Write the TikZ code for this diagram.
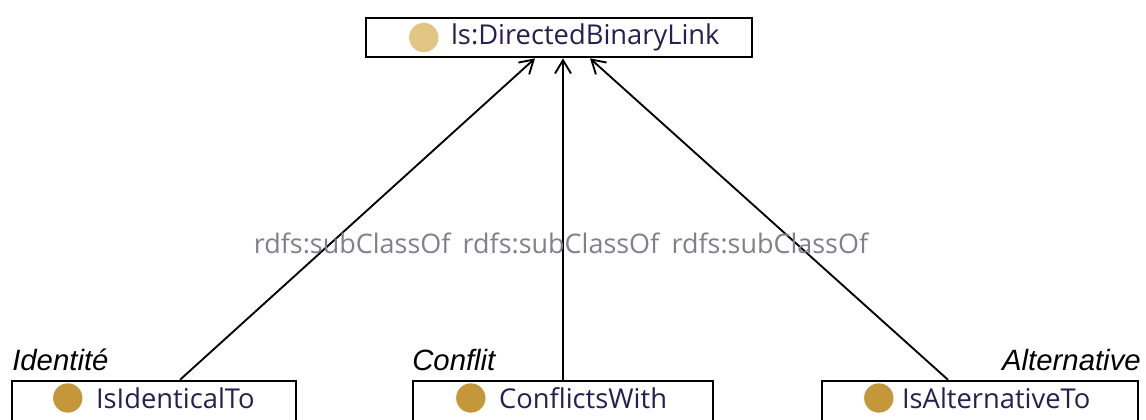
\documentclass[tikz,border=0pt]{standalone}
\usepackage{fontspec}
\setmainfont{Open Sans}
\newfontfamily\tagfont{Liberation Sans}
\usetikzlibrary{positioning,calc,arrows.meta}

\definecolor{classtext}{RGB}{40,30,80}
\definecolor{topdot}{RGB}{224,198,130}
\definecolor{subdot}{RGB}{196,152,58}
\definecolor{edgegray}{RGB}{128,128,140}

\tikzset{
  classbox/.style={draw,line width=1.8pt,minimum height=29.5pt,inner sep=0pt},
  classdot/.style={circle,inner sep=0pt,minimum size=22pt},
  classname/.style={anchor=west,inner sep=0pt,text=classtext,font=\fontsize{20.5}{24}\selectfont},
  subarrow/.style={line width=1.4pt,-{Straight Barb[length=10pt,width=12pt,line width=1.4pt]}},
  edgelabel/.style={text=edgegray,inner sep=0pt,font=\fontsize{20.2}{24}\selectfont},
  tag/.style={inner sep=0pt,font=\tagfont\itshape\fontsize{22}{26}\selectfont}
}

\begin{document}
\begin{tikzpicture}[x=0.75pt,y=-0.75pt]
\useasboundingbox (0,0) rectangle (1146,420);
\clip (0,0) rectangle (1146,420);

% Super class
\node[classbox,minimum width=289.5pt] (link) at (559,37.5) {};
\node[classdot,fill=topdot] (linkdot) at ($(link.west)+(59,0)$) {};
\node[classname] (linktext) at ($(link.west)+(86,0)$) {ls:DirectedBinaryLink};

% Sub classes
\node[classbox,minimum width=213pt,minimum height=30pt] (ident) at (154,401) {};
\node[classdot,fill=subdot] (identdot) at ($(ident.west)+(57,-3)$) {};
\node[classname] (identtext) at ($(ident.west)+(85,-3)$) {IsIdenticalTo};

\node[classbox,minimum width=225pt,minimum height=30pt] (confl) at (563,401) {};
\node[classdot,fill=subdot] (confldot) at ($(confl.west)+(59,-3)$) {};
\node[classname] (confltext) at ($(confl.west)+(87,-3)$) {ConflictsWith};

\node[classbox,minimum width=237pt,minimum height=30pt] (alter) at (980,401) {};
\node[classdot,fill=subdot] (alterdot) at ($(alter.west)+(58,-3)$) {};
\node[classname] (altertext) at ($(alter.west)+(81,-3)$) {IsAlternativeTo};

% Tags
\node[tag,anchor=base west] (identtag) at (12,370) {Identité};
\node[tag,anchor=base west] (confltag) at (412,370) {Conflit};
\node[tag,anchor=base east] (altertag) at (1141,370) {Alternative};

% subClassOf links
\draw[subarrow] ($(ident.north)+(26,0)$) -- ($(link.south)+(-24,0)$)
  node[edgelabel,pos=0.423,xshift=16.5pt] (identedge) {rdfs:subClassOf};
\draw[subarrow] (confl.north) -- (confl.north |- link.south)
  node[edgelabel,pos=0.423,xshift=-1.5pt] (confledge) {rdfs:subClassOf};
\draw[subarrow] ($(alter.north)+(-32,0)$) -- ($(link.south)+(31,0)$)
  node[edgelabel,pos=0.423,xshift=-20pt] (alteredge) {rdfs:subClassOf};
\end{tikzpicture}
\end{document}
